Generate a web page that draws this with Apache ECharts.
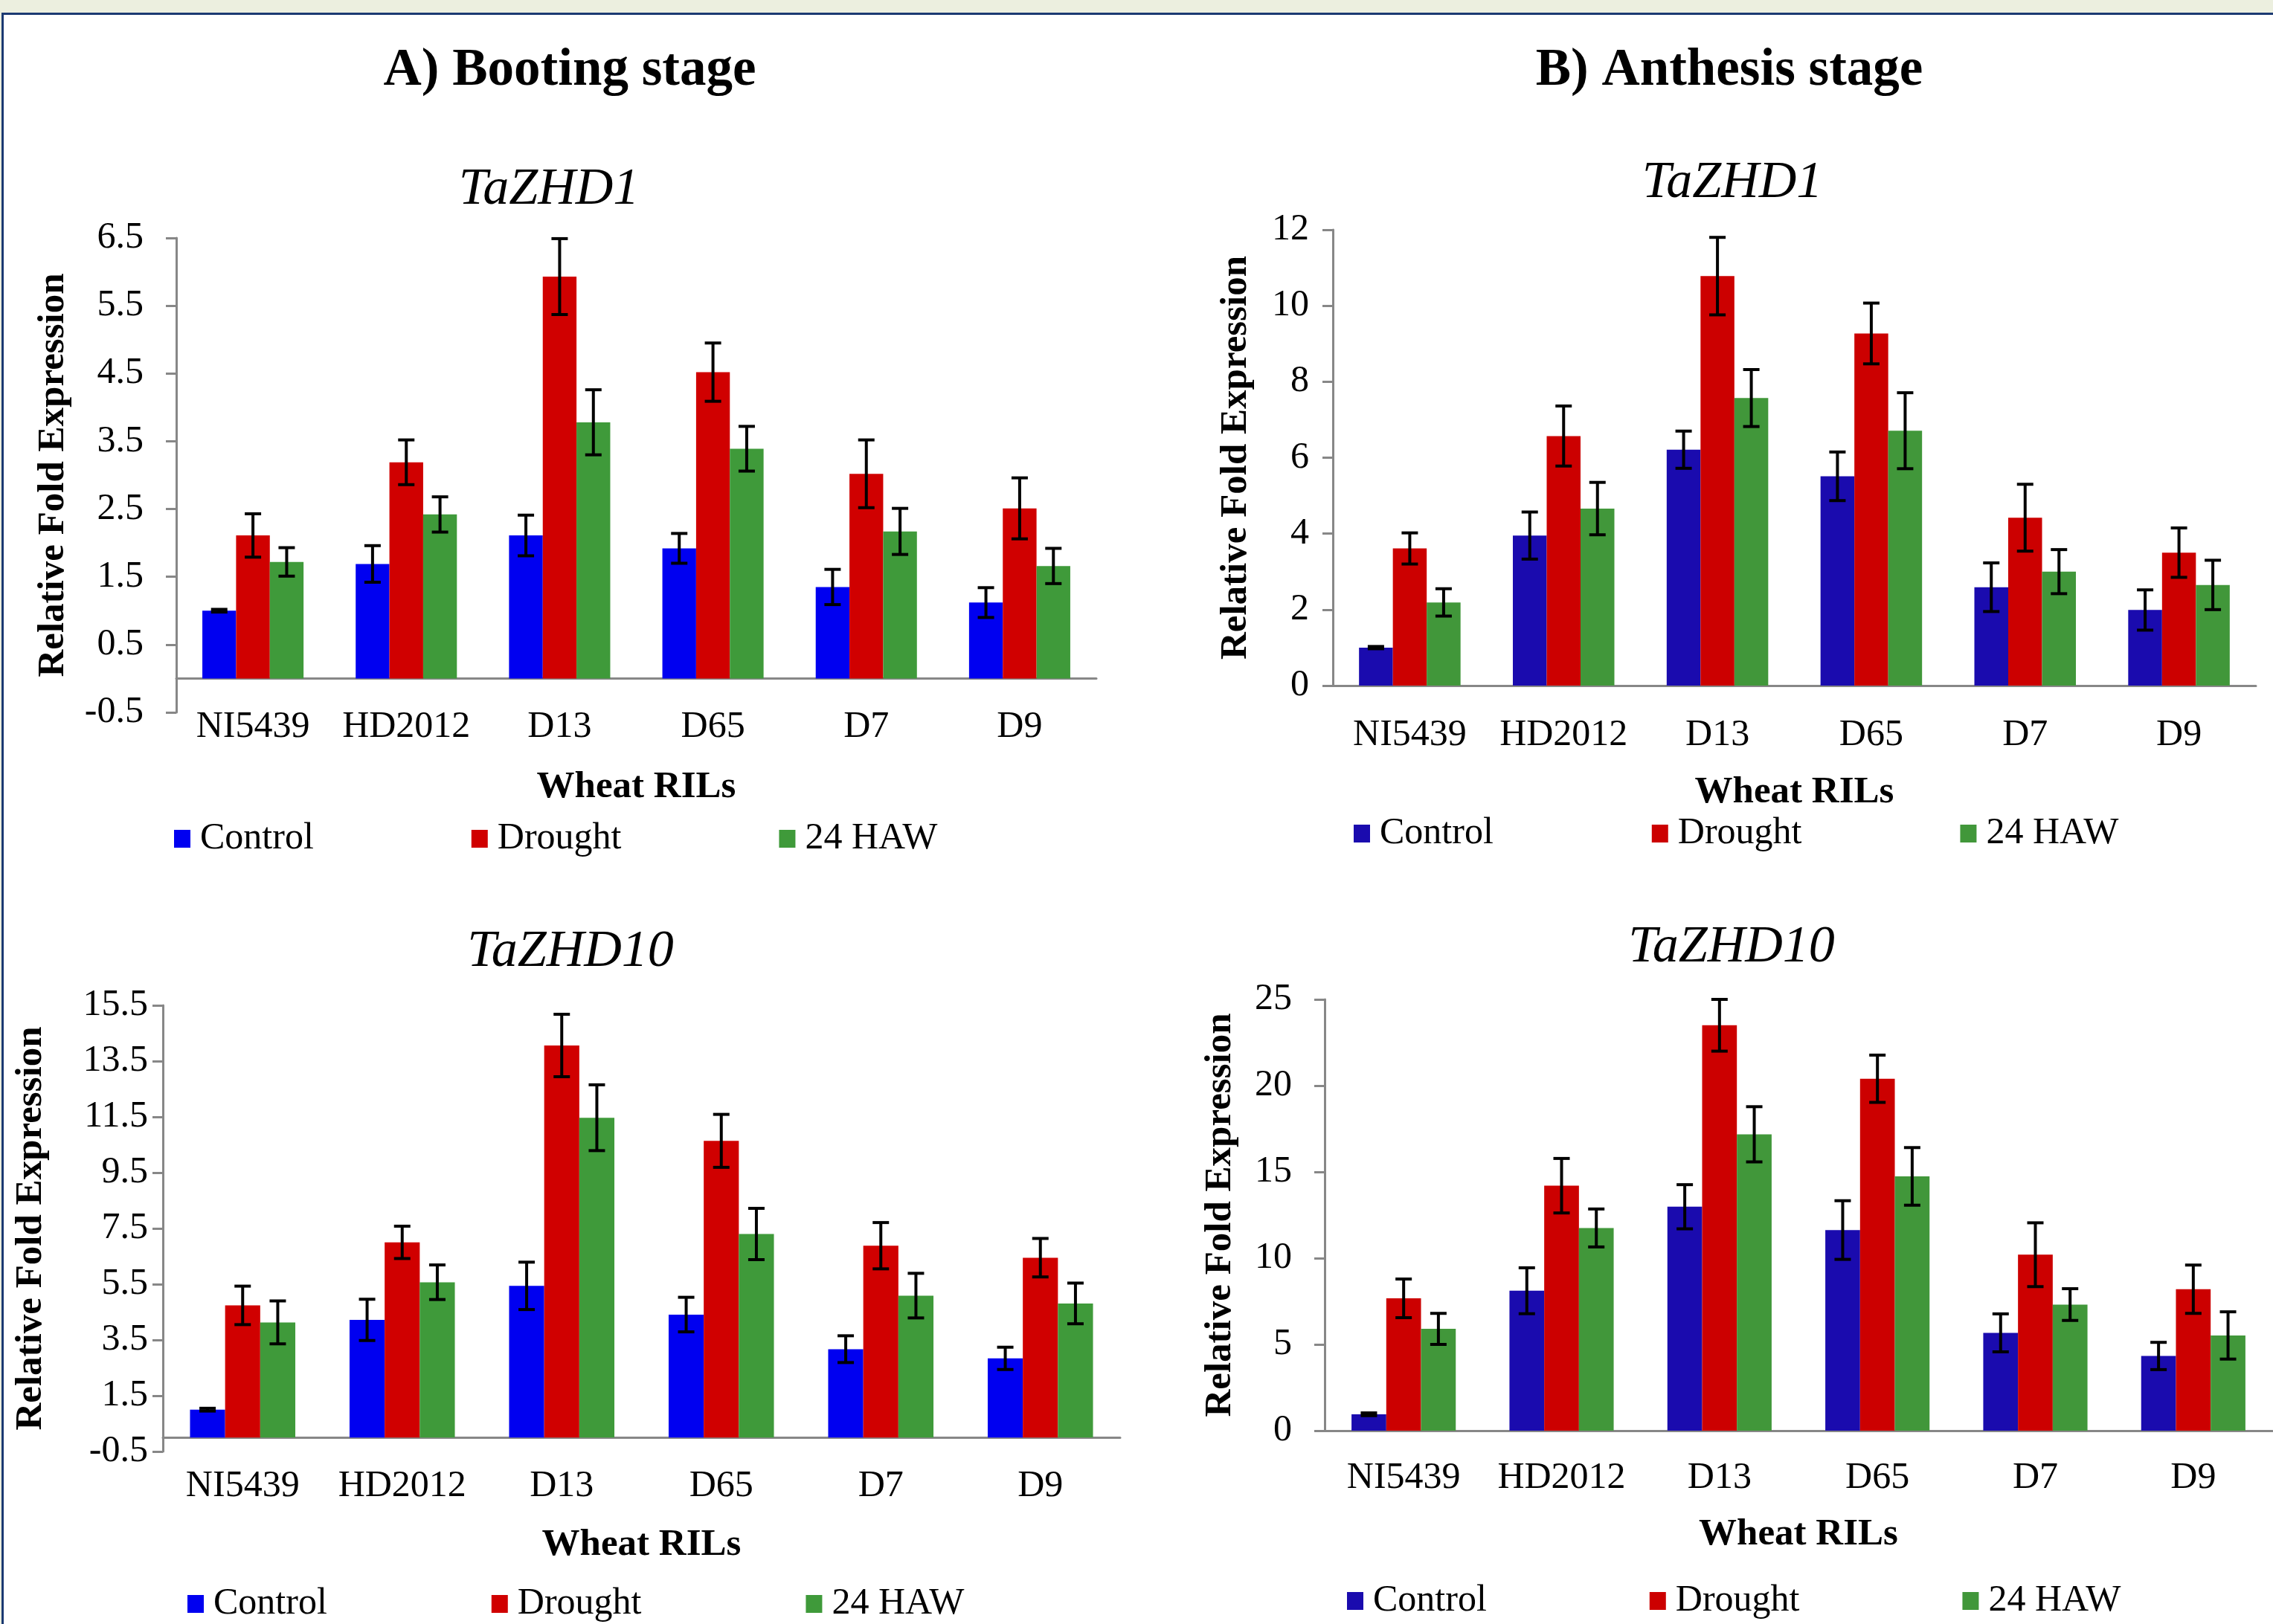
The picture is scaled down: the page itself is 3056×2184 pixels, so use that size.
<!DOCTYPE html>
<html><head><meta charset="utf-8">
<script src="https://cdn.jsdelivr.net/npm/echarts@6/dist/echarts.min.js"></script>
<style>
html,body{margin:0;padding:0;width:3056px;height:2184px;overflow:hidden;background:#ECEFDF;}
#frame{position:absolute;left:2px;top:17px;width:3054px;height:2167px;background:#fff;border-top:3px solid #1C3A72;border-left:3px solid #1C3A72;box-sizing:border-box;}
#chart{position:absolute;left:0;top:0;width:3056px;height:2184px;}
</style></head><body>
<div id="frame"></div><div id="chart"></div>
<script>
// ---- data ----
const categories = ['NI5439', 'HD2012', 'D13', 'D65', 'D7', 'D9'];
const treatments = ['Control', 'Drought', '24 HAW'];

// A) Booting stage, TaZHD1
const bootZHD1Control = [1.00, 1.69, 2.11, 1.92, 1.35, 1.12];
const bootZHD1ControlErr = [0.02, 0.27, 0.30, 0.22, 0.26, 0.22];
const bootZHD1Drought = [2.11, 3.19, 5.93, 4.52, 3.02, 2.51];
const bootZHD1DroughtErr = [0.32, 0.33, 0.56, 0.43, 0.50, 0.45];
const bootZHD1Haw = [1.72, 2.42, 3.78, 3.39, 2.17, 1.66];
const bootZHD1HawErr = [0.21, 0.26, 0.48, 0.33, 0.34, 0.26];

// B) Anthesis stage, TaZHD1
const anthZHD1Control = [1.00, 3.95, 6.21, 5.51, 2.59, 1.99];
const anthZHD1ControlErr = [0.03, 0.62, 0.49, 0.64, 0.64, 0.53];
const anthZHD1Drought = [3.61, 6.57, 10.78, 9.27, 4.42, 3.50];
const anthZHD1DroughtErr = [0.41, 0.79, 1.02, 0.80, 0.88, 0.65];
const anthZHD1Haw = [2.19, 4.66, 7.57, 6.71, 3.00, 2.65];
const anthZHD1HawErr = [0.36, 0.69, 0.75, 1.00, 0.58, 0.65];

// A) Booting stage, TaZHD10
const bootZHD10Control = [1.00, 4.22, 5.44, 4.41, 3.17, 2.84];
const bootZHD10ControlErr = [0.05, 0.74, 0.85, 0.62, 0.48, 0.40];
const bootZHD10Drought = [4.74, 7.00, 14.06, 10.64, 6.88, 6.45];
const bootZHD10DroughtErr = [0.69, 0.58, 1.12, 0.95, 0.83, 0.69];
const bootZHD10Haw = [4.13, 5.57, 11.47, 7.30, 5.09, 4.81];
const bootZHD10HawErr = [0.77, 0.62, 1.18, 0.92, 0.80, 0.73];

// B) Anthesis stage, TaZHD10
const anthZHD10Control = [0.95, 8.11, 12.98, 11.63, 5.67, 4.33];
const anthZHD10ControlErr = [0.08, 1.33, 1.28, 1.70, 1.10, 0.79];
const anthZHD10Drought = [7.67, 14.20, 23.50, 20.40, 10.20, 8.20];
const anthZHD10DroughtErr = [1.12, 1.58, 1.50, 1.37, 1.85, 1.40];
const anthZHD10Haw = [5.90, 11.75, 17.18, 14.74, 7.31, 5.52];
const anthZHD10HawErr = [0.90, 1.10, 1.60, 1.67, 0.92, 1.37];

// ---- styling ----
const SERIF = '"Liberation Serif","Times New Roman",serif';
const AXIS_GRAY = '#878787';
const CAT_GAP = 0.34;
const bootColors = ['#0000F0', '#D00000', '#3F9A3A'];
const anthColors = ['#1A0BAE', '#CC0000', '#41973A'];

const panels = [
  { grid: {left: 237, top: 320, width: 1237, height: 638},
    min: -0.5, max: 6.5, interval: 1, fixed: 1,
    values: [bootZHD1Control, bootZHD1Drought, bootZHD1Haw],
    errors: [bootZHD1ControlErr, bootZHD1DroughtErr, bootZHD1HawErr],
    colors: bootColors, yLabelMargin: 44, yNameGap: 140, xNameGap: 75, xLabelMargin: -5,
    legend: {left: 234, top: 1103, itemGap: 212} },
  { grid: {left: 219, top: 1352, width: 1287, height: 600},
    min: -0.5, max: 15.5, interval: 2, fixed: 1,
    values: [bootZHD10Control, bootZHD10Drought, bootZHD10Haw],
    errors: [bootZHD10ControlErr, bootZHD10DroughtErr, bootZHD10HawErr],
    colors: bootColors, yLabelMargin: 20, yNameGap: 152, xNameGap: 100, xLabelMargin: 22,
    legend: {left: 252, top: 2132, itemGap: 221} },
  { grid: {left: 1792, top: 309, width: 1241, height: 613},
    min: 0, max: 12, interval: 2, fixed: 0,
    values: [anthZHD1Control, anthZHD1Drought, anthZHD1Haw],
    errors: [anthZHD1ControlErr, anthZHD1DroughtErr, anthZHD1HawErr],
    colors: anthColors, yLabelMargin: 32, yNameGap: 105, xNameGap: 118, xLabelMargin: 42,
    legend: {left: 1820, top: 1096, itemGap: 213} },
  { grid: {left: 1781, top: 1344, width: 1274, height: 580},
    min: 0, max: 25, interval: 5, fixed: 0,
    values: [anthZHD10Control, anthZHD10Drought, anthZHD10Haw],
    errors: [anthZHD10ControlErr, anthZHD10DroughtErr, anthZHD10HawErr],
    colors: anthColors, yLabelMargin: 44, yNameGap: 115, xNameGap: 114, xLabelMargin: 39,
    legend: {left: 1811, top: 2128, itemGap: 219} }
];

function errRender(k) {
  return function (params, api) {
    const ci = api.value(0), v = api.value(1), e = api.value(2);
    const c = api.coord([ci, v]);
    const band = api.size([1, 0])[0];
    const w = band * (1 - CAT_GAP) / 3;
    const x = c[0] + (k - 1) * w;
    const yHi = api.coord([ci, v + e])[1];
    const yLo = api.coord([ci, v - e])[1];
    const cap = 11;
    const style = {stroke: '#000', lineWidth: 4};
    return {type: 'group', children: [
      {type: 'line', shape: {x1: x, y1: yHi, x2: x, y2: yLo}, style: style},
      {type: 'line', shape: {x1: x - cap, y1: yHi, x2: x + cap, y2: yHi}, style: style},
      {type: 'line', shape: {x1: x - cap, y1: yLo, x2: x + cap, y2: yLo}, style: style}
    ]};
  };
}

const grids = [], xAxes = [], yAxes = [], series = [], legends = [];
panels.forEach(function (p, gi) {
  grids.push(Object.assign({containLabel: false}, p.grid));
  xAxes.push({
    type: 'category', gridIndex: gi, data: categories,
    name: 'Wheat RILs', nameLocation: 'middle', nameGap: p.xNameGap,
    nameTextStyle: {fontFamily: SERIF, fontSize: 51, fontWeight: 'bold', color: '#000'},
    axisLine: {show: true, onZero: true, lineStyle: {color: AXIS_GRAY, width: 3}},
    axisTick: {show: false},
    axisLabel: {fontFamily: SERIF, fontSize: 50, color: '#000', margin: p.xLabelMargin, interval: 0},
    splitLine: {show: false}
  });
  yAxes.push({
    type: 'value', gridIndex: gi, min: p.min, max: p.max, interval: p.interval,
    name: 'Relative Fold Expression', nameLocation: 'middle', nameGap: p.yNameGap,
    nameTextStyle: {fontFamily: SERIF, fontSize: 51, fontWeight: 'bold', color: '#000'},
    axisLine: {show: true, lineStyle: {color: AXIS_GRAY, width: 3}},
    axisTick: {show: true, length: 14, lineStyle: {color: AXIS_GRAY, width: 3}},
    axisLabel: {fontFamily: SERIF, fontSize: 50, color: '#000', margin: p.yLabelMargin,
      formatter: (function (f) { return function (v) { return Number(v).toFixed(f); }; })(p.fixed)},
    splitLine: {show: false}
  });
  treatments.forEach(function (t, k) {
    series.push({
      type: 'bar', name: t, xAxisIndex: gi, yAxisIndex: gi,
      data: p.values[k], barGap: '0%', barCategoryGap: (CAT_GAP * 100) + '%',
      itemStyle: {color: p.colors[k]}, z: 2
    });
  });
  treatments.forEach(function (t, k) {
    series.push({
      type: 'custom', name: t + ' SE', xAxisIndex: gi, yAxisIndex: gi,
      data: p.values[k].map(function (v, i) { return [i, v, p.errors[k][i]]; }),
      encode: {x: 0, y: 1}, renderItem: errRender(k), z: 5, clip: false, silent: true
    });
  });
  legends.push({
    left: p.legend.left, top: p.legend.top, itemGap: p.legend.itemGap, padding: 0,
    orient: 'horizontal', icon: 'rect', itemWidth: 22, itemHeight: 24,
    selectedMode: false,
    textStyle: {fontFamily: SERIF, fontSize: 50, color: '#000', padding: [0, 0, 0, 8]},
    data: treatments.map(function (t, k) { return {name: t, itemStyle: {color: p.colors[k]}}; })
  });
});

const titleBase = {padding: 0, textAlign: 'center', textVerticalAlign: 'middle'};
const titles = [
  Object.assign({text: 'A) Booting stage', left: 766, top: 96,
    textStyle: {fontFamily: SERIF, fontSize: 71, fontWeight: 'bold', color: '#000'}}, titleBase),
  Object.assign({text: 'B) Anthesis stage', left: 2325, top: 96,
    textStyle: {fontFamily: SERIF, fontSize: 71, fontWeight: 'bold', color: '#000'}}, titleBase),
  Object.assign({text: 'TaZHD1', left: 738, top: 256,
    textStyle: {fontFamily: SERIF, fontSize: 70, fontStyle: 'italic', fontWeight: 'normal', color: '#000'}}, titleBase),
  Object.assign({text: 'TaZHD1', left: 2329, top: 247,
    textStyle: {fontFamily: SERIF, fontSize: 70, fontStyle: 'italic', fontWeight: 'normal', color: '#000'}}, titleBase),
  Object.assign({text: 'TaZHD10', left: 767, top: 1281,
    textStyle: {fontFamily: SERIF, fontSize: 70, fontStyle: 'italic', fontWeight: 'normal', color: '#000'}}, titleBase),
  Object.assign({text: 'TaZHD10', left: 2328, top: 1275,
    textStyle: {fontFamily: SERIF, fontSize: 70, fontStyle: 'italic', fontWeight: 'normal', color: '#000'}}, titleBase)
];

const chart = echarts.init(document.getElementById('chart'), null, {renderer: 'canvas'});
chart.setOption({
  animation: false,
  backgroundColor: 'transparent',
  title: titles,
  legend: legends,
  grid: grids,
  xAxis: xAxes,
  yAxis: yAxes,
  series: series
});
</script>
</body></html>
